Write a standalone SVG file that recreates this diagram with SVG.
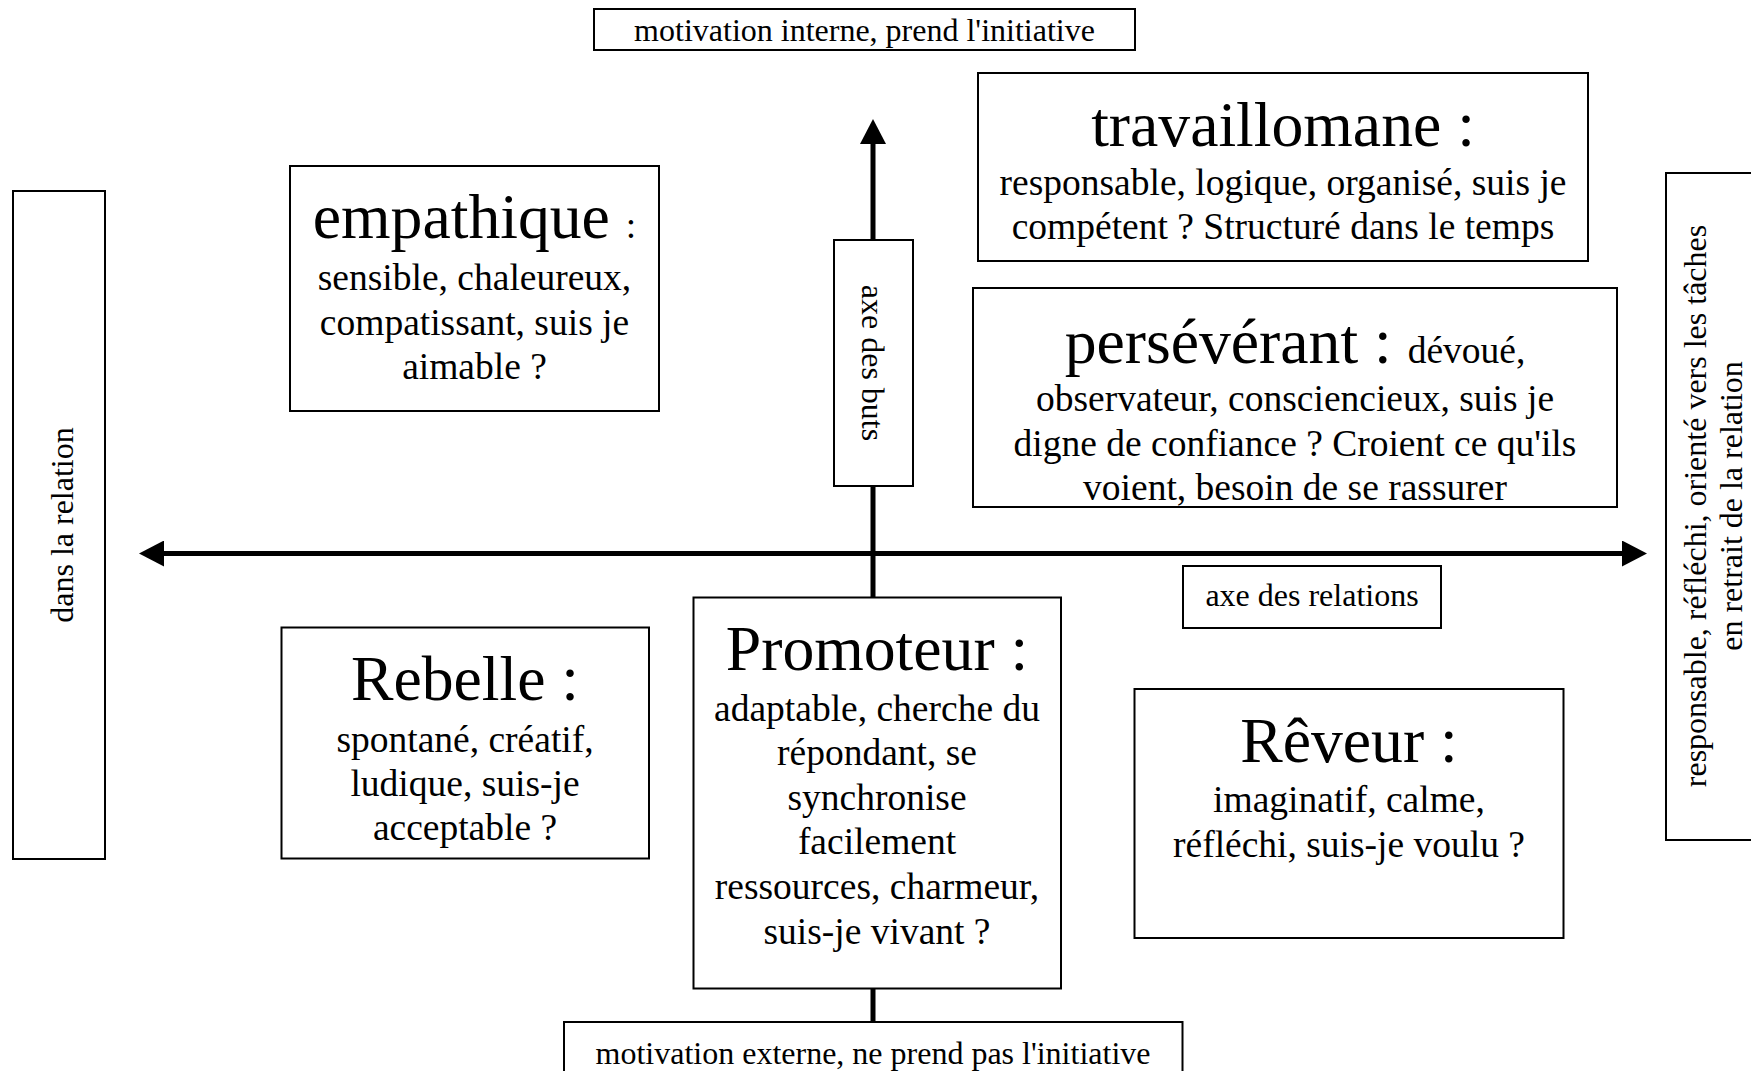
<svg xmlns="http://www.w3.org/2000/svg" width="1751" height="1071" viewBox="0 0 1751 1071">
<style>
.box{fill:#fff;stroke:#000;stroke-width:2}
text{font-family:"Liberation Serif","Times New Roman",serif;fill:#000;text-anchor:middle}
.lbl{font-size:32px}
.body{font-size:37.5px}
.ttl{font-size:63.7px}
.axis{stroke:#000;stroke-width:5;fill:none}
</style>
<defs>
<marker id="arr" viewBox="0 0 25 26" refX="1" refY="13" markerWidth="25" markerHeight="26" markerUnits="userSpaceOnUse" orient="auto-start-reverse">
<path d="M0,0 L25,13 L0,26 Z" fill="#000"/>
</marker>
</defs>
<rect width="1751" height="1071" fill="#fff"/>
<g id="connectors">
<line class="axis" x1="873" y1="1022" x2="873" y2="143" marker-end="url(#arr)"/>
<line class="axis" x1="163" y1="553.5" x2="1623" y2="553.5" marker-start="url(#arr)" marker-end="url(#arr)"/>
</g>
<g id="top-label">
<rect class="box" x="594" y="9" width="541" height="41"/>
<text class="lbl" x="864.5" y="41">motivation interne, prend l'initiative</text>
</g>
<g id="bottom-label">
<rect class="box" x="564" y="1022" width="618.5" height="60"/>
<text class="lbl" x="873" y="1064">motivation externe, ne prend pas l'initiative</text>
</g>
<g id="left-label">
<rect class="box" x="13" y="191" width="92" height="668"/>
<text class="lbl" transform="translate(72.5,525) rotate(-90)">dans la relation</text>
</g>
<g id="right-label">
<rect class="box" x="1666" y="173" width="100" height="667"/>
<text class="lbl" transform="translate(1706,506) rotate(-90)">responsable, réfléchi, orienté vers les tâches</text>
<text class="lbl" transform="translate(1742,506) rotate(-90)">en retrait de la relation</text>
</g>
<g id="axe-buts">
<rect class="box" x="834" y="240" width="79" height="246"/>
<text class="lbl" transform="translate(862,363) rotate(90)">axe des buts</text>
</g>
<g id="axe-relations">
<rect class="box" x="1183" y="566" width="258" height="62"/>
<text class="lbl" x="1312" y="605.5">axe des relations</text>
</g>
<g id="travaillomane">
<rect class="box" x="978" y="73" width="610" height="188"/>
<text class="ttl" x="1283" y="146">travaillomane :</text>
<text class="body" x="1283" y="195">responsable, logique, organisé, suis je</text>
<text class="body" x="1283" y="239">compétent ? Structuré dans le temps</text>
</g>
<g id="empathique">
<rect class="box" x="290" y="166" width="369" height="245"/>
<text x="474.5" y="238"><tspan class="ttl">empathique </tspan><tspan class="body">:</tspan></text>
<text class="body" x="474.5" y="290">sensible, chaleureux,</text>
<text class="body" x="474.5" y="334.5">compatissant, suis je</text>
<text class="body" x="474.5" y="379">aimable ?</text>
</g>
<g id="perseverant">
<rect class="box" x="973" y="288" width="644" height="219"/>
<text x="1295" y="363"><tspan class="ttl">persévérant : </tspan><tspan class="body">dévoué,</tspan></text>
<text class="body" x="1295" y="411">observateur, consciencieux, suis je</text>
<text class="body" x="1295" y="455.5">digne de confiance ? Croient ce qu'ils</text>
<text class="body" x="1295" y="500">voient, besoin de se rassurer</text>
</g>
<g id="promoteur">
<rect class="box" x="693.5" y="597.5" width="367.5" height="391"/>
<text class="ttl" x="877" y="670">Promoteur :</text>
<text class="body" x="877" y="720.5">adaptable, cherche du</text>
<text class="body" x="877" y="765">répondant, se</text>
<text class="body" x="877" y="809.5">synchronise</text>
<text class="body" x="877" y="854">facilement</text>
<text class="body" x="877" y="899">ressources, charmeur,</text>
<text class="body" x="877" y="943.5">suis-je vivant ?</text>
</g>
<g id="rebelle">
<rect class="box" x="281.5" y="627.5" width="367.5" height="231"/>
<text class="ttl" x="465" y="700">Rebelle :</text>
<text class="body" x="465" y="751.5">spontané, créatif,</text>
<text class="body" x="465" y="796">ludique, suis-je</text>
<text class="body" x="465" y="840">acceptable ?</text>
</g>
<g id="reveur">
<rect class="box" x="1134.5" y="689" width="429" height="249"/>
<text class="ttl" x="1349" y="761.5">Rêveur :</text>
<text class="body" x="1349" y="812">imaginatif, calme,</text>
<text class="body" x="1349" y="856.5">réfléchi, suis-je voulu ?</text>
</g>
</svg>
